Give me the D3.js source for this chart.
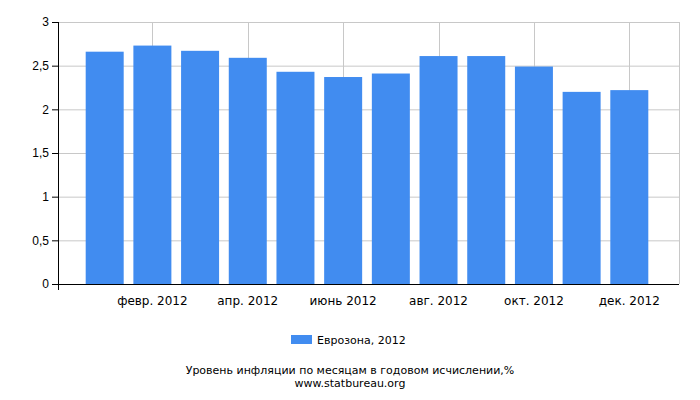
<!DOCTYPE html>
<meta charset="utf-8">
<style>
body { margin: 0; font-family: "DejaVu Sans"; font-size: 12px; }
.grid line { stroke: #c8c8c8; }
.axis text { font-size: 12px; fill: #000; }
</style>
<body>
<script src="https://d3js.org/d3.v7.min.js"></script>
<script>

var width = 700,
    height = 400;

var months = ["янв. 2012", "февр. 2012", "март 2012", "апр. 2012", "май 2012", "июнь 2012",
              "июль 2012", "авг. 2012", "сент. 2012", "окт. 2012", "нояб. 2012", "дек. 2012"];
var values = [2.66, 2.73, 2.67, 2.59, 2.43, 2.37, 2.41, 2.61, 2.61, 2.49, 2.20, 2.22];
var yTicks = [0, 0.5, 1, 1.5, 2, 2.5, 3];
var seriesName = "Еврозона, 2012";

var svg = d3.select("body").append("svg")
    .attr("width", width)
    .attr("height", height);

var x = d3.scaleLinear().domain([-1, 12]).range([57, 677]);
var y = d3.scaleLinear().domain([0, 3]).range([284, 22]);
var fmt = function(d) { return String(d).replace(".", ","); };

// grid
var grid = svg.append("g").attr("class", "grid");
grid.selectAll(".h").data(yTicks).enter().append("line")
    .attr("x1", 58).attr("x2", 679)
    .attr("y1", function(d) { return y(d) + 0.5; })
    .attr("y2", function(d) { return y(d) + 0.5; });
grid.selectAll(".v").data(d3.range(1, 13, 2)).enter().append("line")
    .attr("x1", function(d) { return Math.round(x(d)) + 0.5; })
    .attr("x2", function(d) { return Math.round(x(d)) + 0.5; })
    .attr("y1", 22).attr("y2", 284);
grid.append("line").attr("x1", 679.5).attr("x2", 679.5).attr("y1", 22).attr("y2", 284);

// bars
svg.selectAll(".bar").data(values).enter().append("rect")
    .attr("x", function(d, i) { return x(i) - 19; })
    .attr("width", 38)
    .attr("y", function(d) { return y(d); })
    .attr("height", function(d) { return y(0) - y(d); })
    .attr("fill", "#418cf0");

// axes
svg.append("g").attr("class", "axis")
    .attr("transform", "translate(58,0)")
    .call(d3.axisLeft(y).tickValues(yTicks).tickFormat(fmt).tickSize(6).tickPadding(3))
    .call(function(g) { g.select(".domain").remove(); });
svg.append("line").attr("x1", 58.5).attr("x2", 58.5).attr("y1", 22).attr("y2", 290).attr("stroke", "#000");
svg.append("line").attr("x1", 52).attr("x2", 679).attr("y1", 284.5).attr("y2", 284.5).attr("stroke", "#000");

svg.append("g").attr("class", "axis")
    .selectAll("text").data(d3.range(1, 12, 2)).enter().append("text")
    .attr("x", function(d) { return x(d); })
    .attr("y", 305)
    .attr("text-anchor", "middle")
    .text(function(d) { return months[d]; });

// legend
svg.append("rect").attr("x", 291).attr("y", 335).attr("width", 21).attr("height", 9).attr("fill", "#418cf0");
svg.append("text").attr("x", 317).attr("y", 344).attr("font-size", 11).text(seriesName);

svg.append("text").attr("x", 350).attr("y", 374).attr("text-anchor", "middle").attr("font-size", 11)
    .text("Уровень инфляции по месяцам в годовом исчислении,%");
svg.append("text").attr("x", 350).attr("y", 387).attr("text-anchor", "middle").attr("font-size", 11)
    .text("www.statbureau.org");

</script>
